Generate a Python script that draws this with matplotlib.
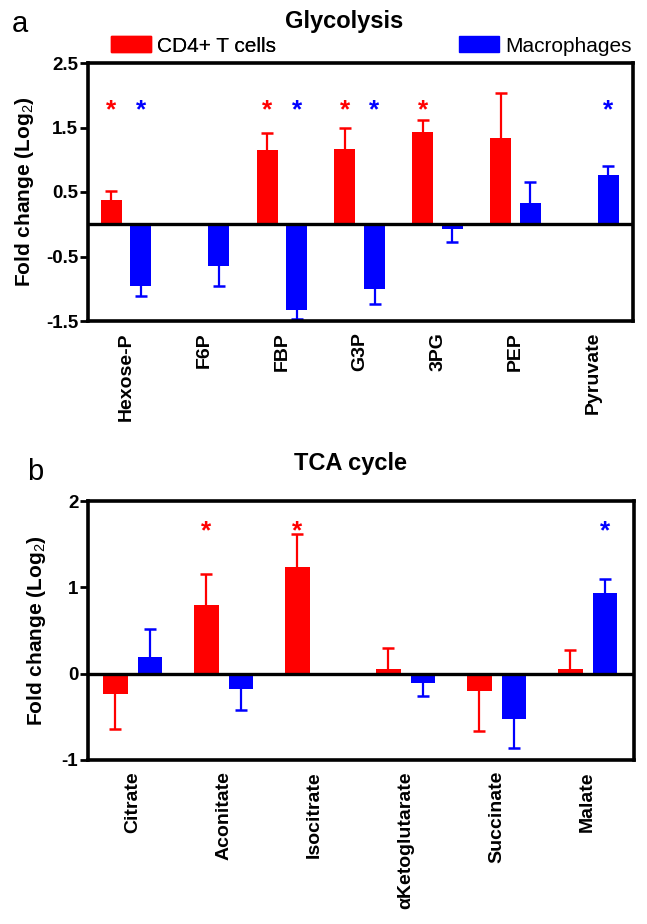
import numpy as np
import matplotlib
matplotlib.use("Agg")
import matplotlib.pyplot as plt
from matplotlib.patches import Patch

plt.rcParams['font.family'] = ['Liberation Sans', 'DejaVu Sans']
plt.rcParams['mathtext.fontset'] = 'custom'
plt.rcParams['mathtext.rm'] = 'Liberation Sans'

RED = '#ff0000'
BLUE = '#0000ff'

# glycolysis panel
gly_labels = ['Hexose-P', 'F6P', 'FBP', 'G3P', '3PG', 'PEP', 'Pyruvate']
gly_cd4 = [0.37, np.nan, 1.15, 1.16, 1.43, 1.33, np.nan]
gly_cd4_sem = [0.14, np.nan, 0.26, 0.33, 0.18, 0.70, np.nan]
gly_mac = [-0.95, -0.65, -1.33, -1.01, -0.08, 0.33, 0.76]
gly_mac_sem = [0.17, 0.31, 0.14, 0.23, 0.20, 0.32, 0.14]
gly_cd4_sig = [True, False, True, True, True, False, False]
gly_mac_sig = [True, False, True, True, False, False, True]

# TCA panel
tca_labels = ['Citrate', 'Aconitate', 'Isocitrate', '\u03b1Ketoglutarate', 'Succinate', 'Malate']
tca_cd4 = [-0.23, 0.79, 1.24, 0.05, -0.20, 0.05]
tca_cd4_sem = [0.41, 0.36, 0.38, 0.25, 0.46, 0.22]
tca_mac = [0.19, -0.18, np.nan, -0.11, -0.52, 0.94]
tca_mac_sem = [0.33, 0.24, np.nan, 0.15, 0.34, 0.16]
tca_cd4_sig = [False, True, True, False, False, False]
tca_mac_sig = [False, False, False, False, False, True]

W, H = 647, 924
fig = plt.figure(figsize=(W / 100, H / 100), dpi=100)


def rect(x0, y0, x1, y1):
    return [x0 / W, 1 - y1 / H, (x1 - x0) / W, (y1 - y0) / H]


def draw_series(ax, xs, vals, sems, color):
    vals = np.asarray(vals, float)
    sems = np.asarray(sems, float)
    ok = ~np.isnan(vals)
    xs = xs[ok]
    v = vals[ok]
    s = sems[ok]
    ax.bar(xs, v, width=0.27, color=color, zorder=2)
    # one-sided error bars, pointing away from zero
    tips = v + np.sign(v) * s
    ax.vlines(xs, v, tips, color=color, lw=1.6, zorder=1)
    ax.plot(xs, tips, ls='none', marker='_', ms=9, mew=1.8, color=color, zorder=1)


def panel(ax, labels, cd4, cd4_sem, mac, mac_sem, cd4_sig, mac_sig,
          ylim, yticks, ytlabels, star_y):
    x = np.arange(len(labels))
    draw_series(ax, x - 0.19, cd4, cd4_sem, RED)
    draw_series(ax, x + 0.19, mac, mac_sem, BLUE)
    for i in range(len(labels)):
        if cd4_sig[i]:
            ax.annotate('*', (x[i] - 0.19, star_y), xytext=(0, -11),
                        textcoords='offset points', ha='center', va='baseline',
                        color=RED, fontsize=19, fontweight='bold')
        if mac_sig[i]:
            ax.annotate('*', (x[i] + 0.19, star_y), xytext=(0, -11),
                        textcoords='offset points', ha='center', va='baseline',
                        color=BLUE, fontsize=19, fontweight='bold')
    ax.axhline(0, color='black', lw=2.4, zorder=3)
    ax.set_xlim(-0.49, len(labels) - 0.49)
    ax.set_ylim(*ylim)
    ax.set_yticks(yticks)
    ax.set_yticklabels(ytlabels, fontsize=13.5, fontweight='bold')
    ax.set_xticks(x)
    ax.set_xticklabels(labels, rotation=90, fontsize=14, fontweight='bold')
    ax.tick_params(axis='x', length=0, pad=8)
    ax.tick_params(axis='y', direction='out', length=6, width=2, pad=1)
    for sp in ax.spines.values():
        sp.set_linewidth(2.6)


ax1 = fig.add_axes(rect(88, 63, 633, 321))
panel(ax1, gly_labels, gly_cd4, gly_cd4_sem, gly_mac, gly_mac_sem,
      gly_cd4_sig, gly_mac_sig, (-1.5, 2.5), [-1.5, -0.5, 0.5, 1.5, 2.5],
      ['-1.5', '-0.5', '0.5', '1.5', '2.5'], 1.89)

ax2 = fig.add_axes(rect(88, 501, 634, 760))
panel(ax2, tca_labels, tca_cd4, tca_cd4_sem, tca_mac, tca_mac_sem,
      tca_cd4_sig, tca_mac_sig, (-1, 2), [-1, 0, 1, 2],
      ['-1', '0', '1', '2'], 1.74)

# titles, panel letters, axis labels
fig.text(344 / W, 1 - 28 / H, 'Glycolysis', ha='center', va='baseline',
         fontsize=17, fontweight='bold')
fig.text(351 / W, 1 - 470 / H, 'TCA cycle', ha='center', va='baseline',
         fontsize=17, fontweight='bold')
fig.text(20 / W, 1 - 32 / H, 'a', ha='center', va='baseline', fontsize=21)
fig.text(35 / W, 1 - 480 / H, 'b', ha='center', va='baseline', fontsize=21)
ylab = 'Fold change (Log$_2$)'
fig.text(25 / W, 1 - 192 / H, ylab, rotation=90, ha='center', va='center',
         fontsize=15, fontweight='bold')
fig.text(37 / W, 1 - 631 / H, ylab, rotation=90, ha='center', va='center',
         fontsize=15, fontweight='bold')

# legend entries
leg1 = fig.legend(handles=[Patch(color=RED, label='CD4+ T cells')],
                  loc='center left', bbox_to_anchor=(111 / W, 1 - 46 / H),
                  frameon=False, fontsize=15, handlelength=1.9, handleheight=0.8,
                  handletextpad=0.3, borderpad=0, borderaxespad=0)
fig.add_artist(leg1)
fig.legend(handles=[Patch(color=BLUE, label='Macrophages')],
           loc='center left', bbox_to_anchor=(459 / W, 1 - 46 / H),
           frameon=False, fontsize=15, handlelength=1.9, handleheight=0.8,
           handletextpad=0.3, borderpad=0, borderaxespad=0)

fig.savefig('out.png', dpi=100)
